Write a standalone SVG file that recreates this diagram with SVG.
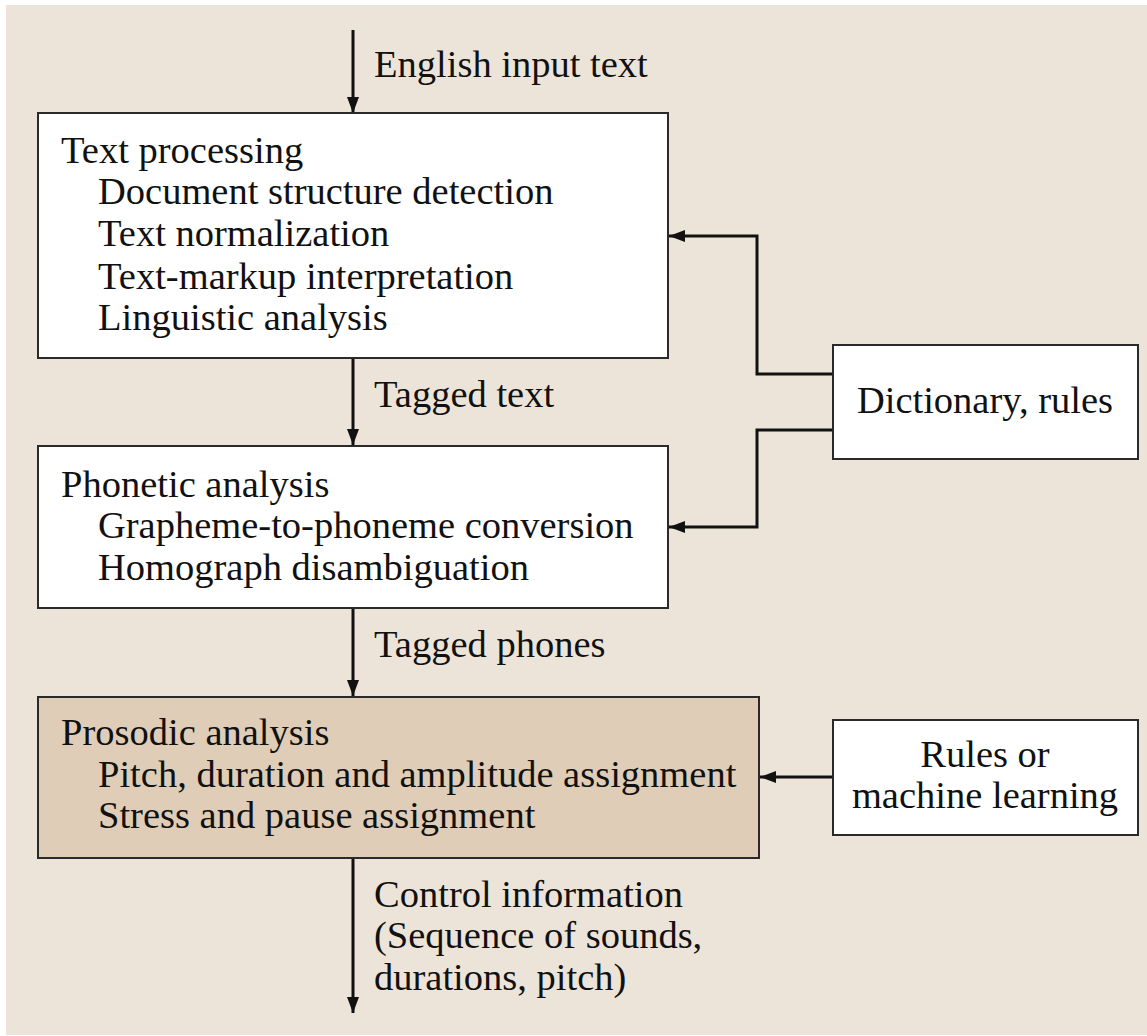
<svg xmlns="http://www.w3.org/2000/svg" width="1147" height="1036" viewBox="0 0 1147 1036">
<defs>
<style>
text{font-family:"Liberation Serif","Times New Roman",serif;font-size:38.5px;fill:#111111}
.box{fill:#ffffff;stroke:#2a2a2a;stroke-width:2}
.shade{fill:#dfcdb7}
.conn{fill:none;stroke:#111111;stroke-width:3}
.mid{text-anchor:middle}
</style>
<marker id="ah" viewBox="0 0 16 12" refX="16" refY="6" markerWidth="16" markerHeight="12" markerUnits="userSpaceOnUse" orient="auto">
<path d="M0,0 L16,6 L0,12 Z" fill="#111111"/>
</marker>
</defs>
<rect x="6" y="5" width="1141" height="1030" fill="#ede4d9"/>
<g id="connectors">
<line class="conn" x1="353" y1="30" x2="353" y2="113" marker-end="url(#ah)"/>
<line class="conn" x1="353" y1="358" x2="353" y2="445" marker-end="url(#ah)"/>
<line class="conn" x1="353" y1="608" x2="353" y2="696" marker-end="url(#ah)"/>
<line class="conn" x1="353" y1="858" x2="353" y2="1013" marker-end="url(#ah)"/>
<polyline class="conn" points="833,374 757,374 757,236 669,236" marker-end="url(#ah)"/>
<polyline class="conn" points="833,430 757,430 757,527 669,527" marker-end="url(#ah)"/>
<line class="conn" x1="833" y1="777" x2="760" y2="777" marker-end="url(#ah)"/>
<text x="374" y="77">English input text</text>
<text x="374" y="407">Tagged text</text>
<text x="374" y="657">Tagged phones</text>
<text x="374" y="907">Control information</text>
<text x="374" y="948">(Sequence of sounds,</text>
<text x="374" y="990">durations, pitch)</text>
</g>
<g id="text-processing">
<rect class="box" x="38" y="113" width="630" height="245"/>
<text x="61" y="163">Text processing</text>
<text x="98" y="204">Document structure detection</text>
<text x="98" y="246">Text normalization</text>
<text x="98" y="289">Text-markup interpretation</text>
<text x="98" y="330">Linguistic analysis</text>
</g>
<g id="phonetic-analysis">
<rect class="box" x="38" y="446" width="630" height="162"/>
<text x="61" y="497">Phonetic analysis</text>
<text x="98" y="538">Grapheme-to-phoneme conversion</text>
<text x="98" y="580">Homograph disambiguation</text>
</g>
<g id="prosodic-analysis">
<rect class="box shade" x="38" y="697" width="721" height="161"/>
<text x="61" y="745">Prosodic analysis</text>
<text x="98" y="787">Pitch, duration and amplitude assignment</text>
<text x="98" y="828">Stress and pause assignment</text>
</g>
<g id="dictionary">
<rect class="box" x="833" y="345" width="305" height="114"/>
<text class="mid" x="985" y="413">Dictionary, rules</text>
</g>
<g id="rules">
<rect class="box" x="833" y="720" width="305" height="115"/>
<text class="mid" x="985" y="767">Rules or</text>
<text class="mid" x="985" y="808">machine learning</text>
</g>
</svg>
